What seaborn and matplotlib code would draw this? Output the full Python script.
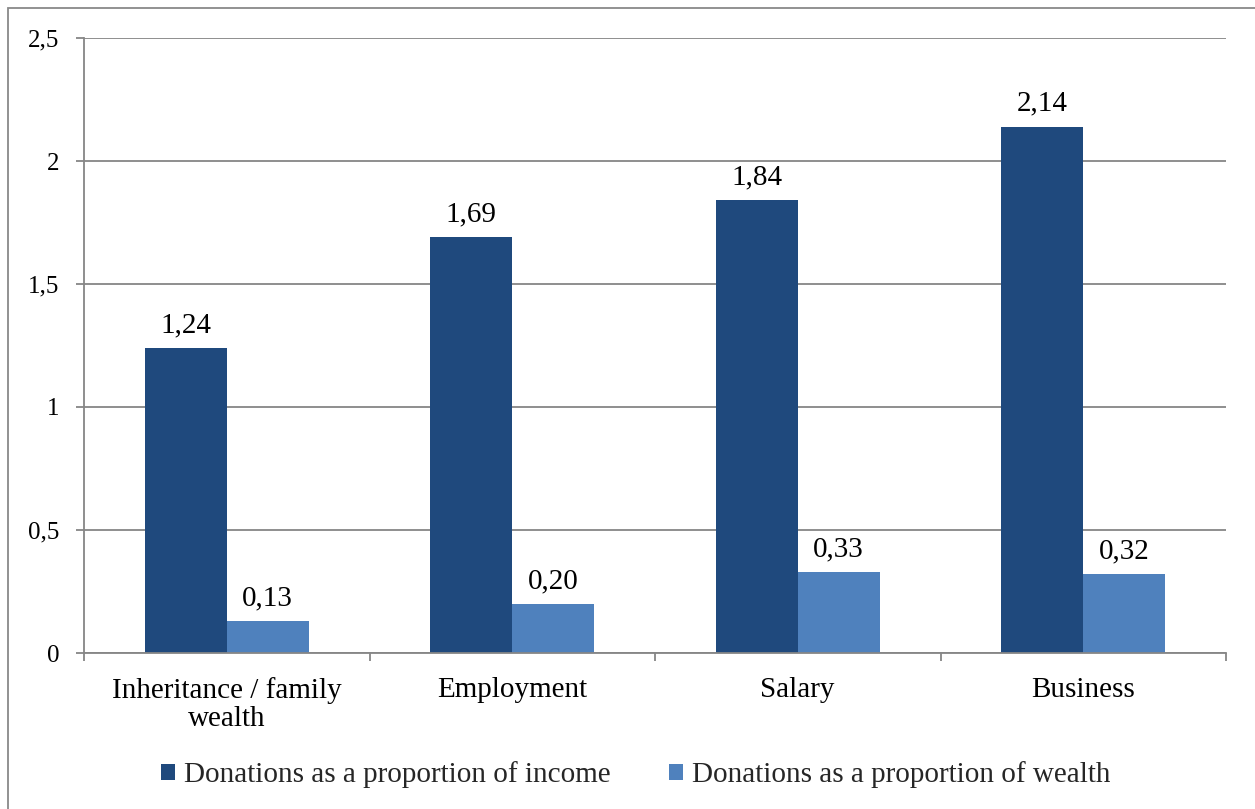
import matplotlib
matplotlib.use("Agg")
import matplotlib.pyplot as plt
import seaborn as sns
import pandas as pd
from matplotlib.patches import Rectangle
from matplotlib.ticker import FuncFormatter, FixedLocator

categories = ["Inheritance / family\nwealth", "Employment", "Salary", "Business"]
series_names = ["Donations as a proportion of income", "Donations as a proportion of wealth"]
income = [1.24, 1.69, 1.84, 2.14]
wealth = [0.13, 0.20, 0.33, 0.32]
yticks = [0, 0.5, 1, 1.5, 2, 2.5]

df = pd.DataFrame({
    "category": categories * 2,
    "series": [series_names[0]] * 4 + [series_names[1]] * 4,
    "value": income + wealth,
})

sns.set_theme(style="white")
plt.rcParams["font.family"] = ["Liberation Serif", "DejaVu Serif"]

fig = plt.figure(figsize=(12.55, 8.09), dpi=100)
ax = fig.add_axes([84 / 1255, 1 - 653 / 809, (1226 - 84) / 1255, (653 - 38) / 809])

colors = ["#1F497D", "#4F81BD"]
sns.barplot(data=df, x="category", y="value", hue="series", order=categories,
            hue_order=series_names, palette=colors, width=0.574, saturation=1,
            linewidth=0, ax=ax, legend=True)

def fmt(v):
    return f"{v:.2f}".replace(".", ",")

for cont in ax.containers:
    ax.bar_label(cont, labels=[fmt(b.get_height()) for b in cont], padding=7,
                 fontsize=21, color="black")

ax.set_ylim(0, 2.5)
ax.set_xlim(-0.5, 3.5)
ax.set_yticks(yticks)
ax.yaxis.set_major_formatter(FuncFormatter(lambda v, p: f"{v:g}".replace(".", ",")))
ax.yaxis.grid(True, color="#868686", linewidth=1.3)
ax.set_axisbelow(True)
ax.set_xlabel("")
ax.set_ylabel("")

for s in ["top", "right"]:
    ax.spines[s].set_visible(False)
for s in ["left", "bottom"]:
    ax.spines[s].set_color("#868686")
    ax.spines[s].set_linewidth(1.3)

ax.tick_params(axis="y", which="major", left=True, length=6, width=1.3, color="#868686",
               labelsize=18, pad=12, labelcolor="black")
ax.tick_params(axis="x", which="major", bottom=False, length=0, labelsize=21, pad=17,
               labelcolor="black")
for t in ax.get_xticklabels():
    t.set_linespacing(1.1)
ax.xaxis.set_minor_locator(FixedLocator([-0.5, 0.5, 1.5, 2.5, 3.5]))
ax.tick_params(axis="x", which="minor", bottom=True, length=6, width=1.3, color="#868686")

leg = ax.legend(loc="center", bbox_to_anchor=(0.483, -0.198), ncol=2, frameon=False,
                fontsize=21, handlelength=0.5, handleheight=0.5, handletextpad=0.3,
                columnspacing=2.0)

fig.patches.append(Rectangle((8 / 1255, -0.05), 1.2, 1 - 8 / 809 + 0.05,
                             transform=fig.transFigure, fill=False,
                             edgecolor="#898989", linewidth=1.3))

fig.savefig("out.png", dpi=100)
